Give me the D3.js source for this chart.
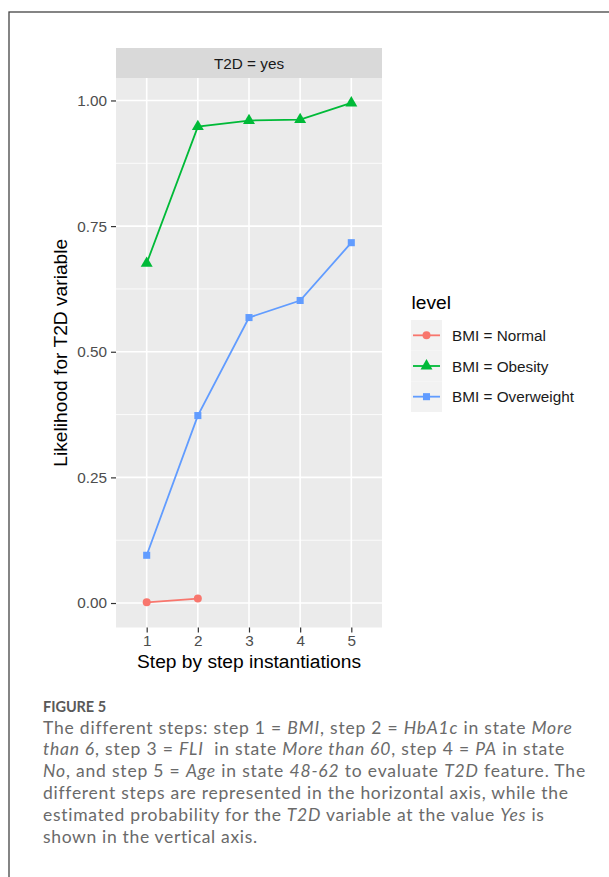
<!DOCTYPE html>
<html>
<head>
<meta charset="utf-8">
<script src="https://cdn.jsdelivr.net/npm/d3@7"></script>
<style>
  body { margin: 0; background: #fff; }
  svg { display: block; }
</style>
</head>
<body>
<div id="chart"></div>
<script>
// Chart data
const steps = [1, 2, 3, 4, 5];
const tickLabelsY = ["0.00", "0.25", "0.50", "0.75", "1.00"];
const tickValuesY = [0, 0.25, 0.5, 0.75, 1];
const minorY = [0.125, 0.375, 0.625, 0.875];
const levels = ["BMI = Normal", "BMI = Obesity", "BMI = Overweight"];
const normalVals = [0.0014, 0.0088];
const obesityVals = [0.676, 0.948, 0.960, 0.962, 0.995];
const overweightVals = [0.095, 0.373, 0.568, 0.602, 0.717];
const colors = ["#F8766D", "#00BA38", "#619CFF"];
const shapes = [d3.symbolCircle, d3.symbolTriangle, d3.symbolSquare];

const W = 609, H = 877;
const panel = { left: 116, right: 382, top: 78, bottom: 627.5 };

const svg = d3.select("#chart").append("svg")
    .attr("width", W)
    .attr("height", H);

// outer frame (runs off the right and bottom edge)
svg.append("rect")
    .attr("x", 9).attr("y", 12)
    .attr("width", W + 20).attr("height", H + 20)
    .attr("fill", "none")
    .attr("stroke", "#444")
    .attr("stroke-width", 1.3);

// scales: discrete x with 0.6 expansion, continuous y with 5% expansion
const x = d3.scalePoint()
    .domain(steps)
    .range([panel.left, panel.right])
    .padding(0.6);

const y = d3.scaleLinear()
    .domain([-0.0487, 1.0447])
    .range([panel.bottom, panel.top]);

// strip
svg.append("rect")
    .attr("x", panel.left).attr("y", 48)
    .attr("width", panel.right - panel.left).attr("height", panel.top - 48)
    .attr("fill", "#d9d9d9");
svg.append("text")
    .attr("x", (panel.left + panel.right) / 2)
    .attr("y", 68.5)
    .attr("text-anchor", "middle")
    .attr("font-family", "Liberation Sans, Arial, sans-serif")
    .attr("font-size", 15.3)
    .attr("fill", "#1a1a1a")
    .text("T2D = yes");

// panel background
svg.append("rect")
    .attr("x", panel.left).attr("y", panel.top)
    .attr("width", panel.right - panel.left).attr("height", panel.bottom - panel.top)
    .attr("fill", "#ebebeb");

// grid
svg.append("g").selectAll("line")
    .data(minorY)
    .enter().append("line")
    .attr("x1", panel.left).attr("x2", panel.right)
    .attr("y1", d => y(d)).attr("y2", d => y(d))
    .attr("stroke", "#fff").attr("stroke-width", 0.8);

svg.append("g").selectAll("line")
    .data(tickValuesY)
    .enter().append("line")
    .attr("x1", panel.left).attr("x2", panel.right)
    .attr("y1", d => y(d)).attr("y2", d => y(d))
    .attr("stroke", "#fff").attr("stroke-width", 1.6);

svg.append("g").selectAll("line")
    .data(steps)
    .enter().append("line")
    .attr("x1", d => x(d)).attr("x2", d => x(d))
    .attr("y1", panel.top).attr("y2", panel.bottom)
    .attr("stroke", "#fff").attr("stroke-width", 1.6);

// axes
const yAxis = svg.append("g")
    .attr("transform", "translate(" + panel.left + ",0)")
    .call(d3.axisLeft(y).tickValues(tickValuesY)
        .tickFormat((d, i) => tickLabelsY[i])
        .tickSize(5).tickPadding(4));

const xAxis = svg.append("g")
    .attr("transform", "translate(0," + panel.bottom + ")")
    .call(d3.axisBottom(x).tickSize(5).tickPadding(3));

[xAxis, yAxis].forEach(a => {
  a.select(".domain").remove();
  a.selectAll(".tick line").attr("stroke", "#333").attr("stroke-width", 1.2);
  a.selectAll(".tick text")
    .attr("fill", "#4d4d4d")
    .attr("font-family", "Liberation Sans, Arial, sans-serif")
    .attr("font-size", 15.3);
});

// axis titles
svg.append("text")
    .attr("x", (panel.left + panel.right) / 2)
    .attr("y", 668)
    .attr("text-anchor", "middle")
    .attr("font-family", "Liberation Sans, Arial, sans-serif")
    .attr("font-size", 19.2)
    .attr("fill", "#000")
    .text("Step by step instantiations");

svg.append("text")
    .attr("transform", "translate(67," + (panel.top + panel.bottom) / 2 + ") rotate(-90)")
    .attr("text-anchor", "middle")
    .attr("font-family", "Liberation Sans, Arial, sans-serif")
    .attr("font-size", 19.2)
    .attr("fill", "#000")
    .text("Likelihood for T2D variable");

// series
const series = [normalVals, obesityVals, overweightVals];
const line = d3.line()
    .x((d, i) => x(steps[i]))
    .y(d => y(d));

series.forEach((vals, s) => {
  svg.append("path")
      .datum(vals)
      .attr("d", line)
      .attr("fill", "none")
      .attr("stroke", colors[s])
      .attr("stroke-width", 1.8);

  svg.append("g").selectAll("path")
      .data(vals)
      .enter().append("path")
      .attr("transform", (d, i) => "translate(" + x(steps[i]) + "," + y(d) + ")")
      .attr("d", d3.symbol().type(shapes[s]).size(s === 1 ? 62 : 50))
      .attr("fill", colors[s]);
});

// legend
const legend = svg.append("g").attr("transform", "translate(411,0)");
legend.append("text")
    .attr("x", 0.5).attr("y", 308.5)
    .attr("font-family", "Liberation Sans, Arial, sans-serif")
    .attr("font-size", 19.2)
    .attr("fill", "#000")
    .text("level");

const keyY = d3.scaleBand().domain(levels).range([320, 412]);

legend.selectAll(".key")
    .data(levels)
    .enter().append("rect")
    .attr("class", "key")
    .attr("x", 0).attr("y", d => keyY(d))
    .attr("width", 31).attr("height", keyY.bandwidth())
    .attr("fill", "#f2f2f2");

levels.forEach((lv, s) => {
  const cy = keyY(lv) + keyY.bandwidth() / 2;
  legend.append("line")
      .attr("x1", 2).attr("x2", 29)
      .attr("y1", cy).attr("y2", cy)
      .attr("stroke", colors[s]).attr("stroke-width", 1.8);
  legend.append("path")
      .attr("transform", "translate(15.5," + cy + ")")
      .attr("d", d3.symbol().type(shapes[s]).size(s === 1 ? 62 : 50))
      .attr("fill", colors[s]);
  legend.append("text")
      .attr("x", 41).attr("y", cy + 5.5)
      .attr("font-family", "Liberation Sans, Arial, sans-serif")
      .attr("font-size", 15.3)
      .attr("fill", "#1a1a1a")
      .text(lv);
});

// caption
const capFont = "Lato, Open Sans, sans-serif";
const figLabel = svg.append("text")
    .attr("x", 43).attr("y", 711.5)
    .attr("font-family", capFont)
    .attr("font-size", 14.5)
    .attr("font-weight", 700)
    .attr("fill", "#595959")
    .text("FIGURE 5");

// each caption line: [segments as [text, italic]], right end in px
const captionLines = [
  [[["The different steps: step 1 = ", 0], ["BMI", 1], [", step 2 = ", 0], ["HbA1c", 1], [" in state ", 0], ["More", 1]], 572],
  [[["than 6", 1], [", step 3 = ", 0], ["FLI", 1], ["  in state ", 0], ["More than 60", 1], [", step 4 = ", 0], ["PA", 1], [" in state", 0]], 565],
  [[["No", 1], [", and step 5 = ", 0], ["Age", 1], [" in state ", 0], ["48-62", 1], [" to evaluate ", 0], ["T2D", 1], [" feature. The", 0]], 586],
  [[["different steps are represented in the horizontal axis, while the", 0]], 568],
  [[["estimated probability for the ", 0], ["T2D", 1], [" variable at the value ", 0], ["Yes", 1], [" is", 0]], 545],
  [[["shown in the vertical axis.", 0]], 258]
];

captionLines.forEach((ln, i) => {
  const t = svg.append("text")
      .attr("x", 43).attr("y", 733.5 + i * 21.8)
      .attr("font-family", capFont)
      .attr("font-size", 17.5)
      .attr("fill", "#6a6a6a")
      .attr("xml:space", "preserve")
      .style("white-space", "pre");
  ln[0].forEach(seg => {
    t.append("tspan")
        .attr("font-style", seg[1] ? "italic" : "normal")
        .text(seg[0]);
  });
  const natural = t.node().getComputedTextLength();
  const nChars = ln[0].reduce((a, s) => a + s[0].length, 0);
  const target = ln[1] - 43;
  t.attr("letter-spacing", ((target - natural) / nChars) + "px");
});

// fit the label too
const fl = figLabel.node().getComputedTextLength();
figLabel.attr("letter-spacing", ((63 - fl) / 8) + "px");
</script>
</body>
</html>
